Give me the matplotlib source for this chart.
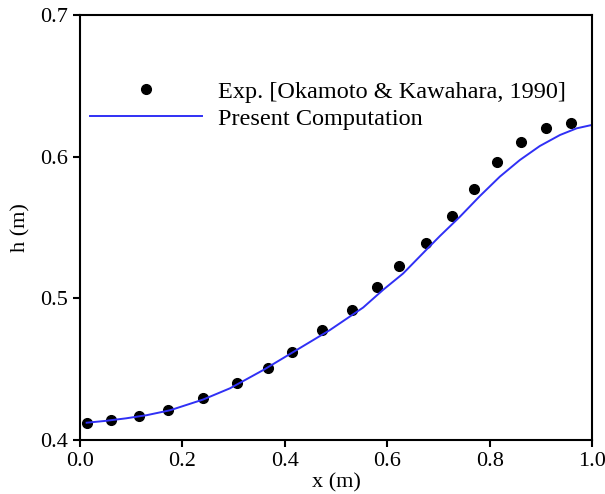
import numpy as np
import matplotlib.pyplot as plt

plt.rcParams['font.family'] = ['Liberation Serif', 'DejaVu Serif']

# experimental data (Okamoto & Kawahara, 1990)
exp_x = [0.014, 0.061, 0.115, 0.172, 0.240, 0.307, 0.367, 0.414, 0.473, 0.531,
         0.580, 0.623, 0.676, 0.727, 0.770, 0.814, 0.861, 0.910, 0.959]
exp_h = [0.412, 0.414, 0.417, 0.421, 0.430, 0.440, 0.451, 0.462, 0.478, 0.492,
         0.508, 0.523, 0.539, 0.558, 0.577, 0.596, 0.610, 0.620, 0.624]

# present computation
comp_x = [0.013, 0.05, 0.09, 0.13, 0.176, 0.24, 0.293, 0.358, 0.423, 0.488,
          0.553, 0.592, 0.631, 0.677, 0.703, 0.742, 0.781, 0.820, 0.859, 0.898,
          0.9375, 0.970, 1.0]
comp_h = [0.4122, 0.4135, 0.4153, 0.4175, 0.421, 0.4285, 0.4365, 0.4494, 0.4635,
          0.4776, 0.4935, 0.506, 0.5175, 0.5345, 0.544, 0.5576, 0.5722, 0.5859,
          0.5976, 0.6075, 0.6153, 0.620, 0.6224]

fig = plt.figure(figsize=(6.05, 4.94), dpi=100)
ax = fig.add_axes([80/605, 54/494, 512/605, 425/494])

ax.plot(exp_x, exp_h, 'o', color='black', markersize=7, linestyle='none',
        label='Exp. [Okamoto & Kawahara, 1990]')
ax.plot(comp_x, comp_h, color='#3030f5', linewidth=1.4, label='Present Computation')

ax.set_xlim(0, 1.0)
ax.set_ylim(0.4, 0.7)
ax.set_xticks([0.0, 0.2, 0.4, 0.6, 0.8, 1.0])
ax.set_yticks([0.4, 0.5, 0.6, 0.7])
ax.xaxis.set_major_formatter(plt.FormatStrFormatter('%.1f'))
ax.yaxis.set_major_formatter(plt.FormatStrFormatter('%.1f'))
for s in ax.spines.values():
    s.set_linewidth(1.5)
ax.tick_params(direction='out', length=5, width=1.5, labelsize=16, top=False, right=False)
ax.set_xlabel('x (m)', fontsize=16, labelpad=2)
ax.set_ylabel('h (m)', fontsize=16, labelpad=7)

ax.legend(loc='upper left', bbox_to_anchor=(0.0195, 0.845), frameon=False,
          fontsize=17.5, borderpad=0, borderaxespad=0, handlelength=4.6,
          handletextpad=0.65, labelspacing=0.2)

fig.savefig('out.png', dpi=100)
